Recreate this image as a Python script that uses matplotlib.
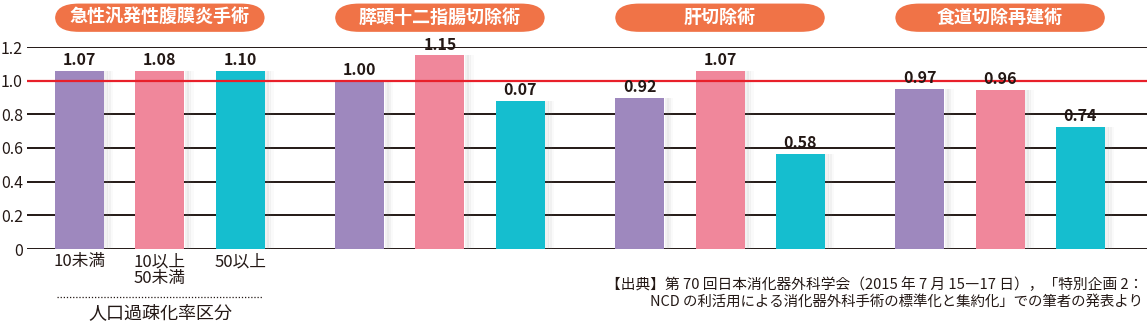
import numpy as np
import matplotlib.pyplot as plt
from matplotlib.patches import FancyBboxPatch
import matplotlib.transforms as mtransforms

plt.rcParams['font.family'] = ['Noto Sans CJK JP', 'DejaVu Sans']

# データ
groups = ['急性汎発性腹膜炎手術', '膵頭十二指腸切除術', '肝切除術', '食道切除再建術']
categories = ['10未満', '10以上\n50未満', '50以上']
# 図から読み取ったバーの高さ
heights = [
    [1.06, 1.06, 1.06],
    [1.00, 1.15, 0.88],
    [0.90, 1.06, 0.565],
    [0.95, 0.945, 0.725],
]
# バーの上に書かれた数値ラベル
value_labels = [
    ['1.07', '1.08', '1.10'],
    ['1.00', '1.15', '0.07'],
    ['0.92', '1.07', '0.58'],
    ['0.97', '0.96', '0.74'],
]
yticks = [0, 0.2, 0.4, 0.6, 0.8, 1.0, 1.2]
ytick_labels = ['0', '0.2', '0.4', '0.6', '0.8', '1.0', '1.2']
colors = ['#9E88BE', '#F0879B', '#15BECF']
source_lines = [
    '【出典】第 70 回日本消化器外科学会（2015 年 7 月 15―17 日），「特別企画 2：',
    'NCD の利活用による消化器外科手術の標準化と集約化」での筆者の発表より',
]

fig = plt.figure(figsize=(11.47, 3.24), dpi=100)
ax = fig.add_axes([27 / 1147, 75 / 324, 1 - 27 / 1147, 202 / 324])

group_gap = 3.487
width = 0.61

for gi, g in enumerate(groups):
    x = gi * group_gap + np.arange(3)
    # 右側の影
    for k, a in enumerate([0.10, 0.07, 0.04]):
        ax.bar(x + width / 2 + 0.03 + k * 0.03, heights[gi], width=0.05,
               color='#888888', alpha=a, linewidth=0, zorder=2)
    ax.bar(x, heights[gi], width=width, color=colors, linewidth=0, zorder=3)
    for xi, h, lab in zip(x, heights[gi], value_labels[gi]):
        ax.annotate(lab, (xi, h), xytext=(0, 2), textcoords='offset points',
                    ha='center', va='bottom', fontsize=11.5, fontweight='bold',
                    color='#231815', zorder=5)

    # グループ名の枠
    trans = mtransforms.blended_transform_factory(ax.transData, ax.transAxes)
    x0 = x[0] - width / 2
    x1 = x[-1] + width / 2
    box = FancyBboxPatch((x0, 1.075), x1 - x0, 0.14,
                         boxstyle='round,pad=0,rounding_size=0.3',
                         mutation_aspect=0.25,
                         transform=trans, facecolor='#F07347', edgecolor='none',
                         clip_on=False, zorder=4)
    ax.add_patch(box)
    ax.text((x0 + x1) / 2, 1.145, g, transform=trans, ha='center', va='center',
            fontsize=13, fontweight='bold', color='white', zorder=5)

# 横線
for yv in yticks:
    ax.axhline(yv, color='#231815', lw=1.4, zorder=1)
ax.axhline(1.0, color='#E8202A', lw=1.6, zorder=4)

ax.set_xlim(-0.654, 13.29)
ax.set_ylim(0, 1.2)
ax.set_yticks(yticks)
ax.set_yticklabels(ytick_labels, fontsize=11.5, color='#231815')
ax.tick_params(axis='y', length=0, pad=3)
ax.set_xticks(np.arange(3))
ax.set_xticklabels(categories, fontsize=12, color='#231815', linespacing=0.95)
ax.tick_params(axis='x', length=0, pad=3)
for s in ax.spines.values():
    s.set_visible(False)

# 区分ラベル
fig.add_artist(plt.Line2D([57 / 1147, 262 / 1147], [1 - 297 / 324] * 2,
                          color='#231815', lw=0.9, ls=(0, (1, 1.5))))
fig.text(160 / 1147, 1 - 313 / 324, '人口過疎化率区分', ha='center', va='center',
         fontsize=13, color='#231815')

# 出典
fig.text(1143 / 1147, 1 - 285 / 324, source_lines[0], ha='right', va='center',
         fontsize=10.6, color='#231815')
fig.text(1143 / 1147, 1 - 302 / 324, source_lines[1], ha='right', va='center',
         fontsize=10.4, color='#231815')

fig.savefig('out.png', dpi=100)
